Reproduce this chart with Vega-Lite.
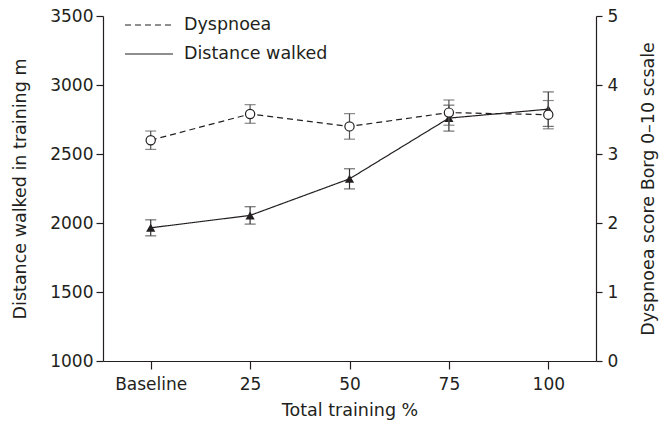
{
  "$schema": "https://vega.github.io/schema/vega-lite/v6.json",
  "width": 493,
  "height": 345,
  "autosize": "none",
  "padding": {"left": 103, "top": 16, "right": 68, "bottom": 61},
  "background": "white",
  "config": {
    "view": {"stroke": null},
    "font": "DejaVu Sans",
    "axis": {
      "grid": false,
      "domainColor": "#231f20",
      "tickColor": "#231f20",
      "domainWidth": 1.2,
      "tickWidth": 1.2,
      "labelColor": "#231f20",
      "titleColor": "#231f20",
      "labelFont": "DejaVu Sans",
      "titleFont": "DejaVu Sans",
      "labelFontSize": 17,
      "titleFontSize": 17.5,
      "titleFontWeight": "normal"
    },
    "legend": {
      "labelFont": "DejaVu Sans",
      "labelFontSize": 17.5,
      "labelColor": "#231f20"
    }
  },
  "datasets": {
    "distance": [
      {"t": "Baseline", "series": "Distance walked", "mean": 1965, "err": 58},
      {"t": "25", "series": "Distance walked", "mean": 2055, "err": 63},
      {"t": "50", "series": "Distance walked", "mean": 2320, "err": 73},
      {"t": "75", "series": "Distance walked", "mean": 2760, "err": 94},
      {"t": "100", "series": "Distance walked", "mean": 2825, "err": 125}
    ],
    "dyspnoea": [
      {"t": "Baseline", "series": "Dyspnoea", "mean": 3.2, "err": 0.133},
      {"t": "25", "series": "Dyspnoea", "mean": 3.58, "err": 0.135},
      {"t": "50", "series": "Dyspnoea", "mean": 3.4, "err": 0.185},
      {"t": "75", "series": "Dyspnoea", "mean": 3.6, "err": 0.183},
      {"t": "100", "series": "Dyspnoea", "mean": 3.57, "err": 0.205}
    ]
  },
  "encoding": {
    "x": {
      "field": "t",
      "type": "ordinal",
      "sort": ["Baseline", "25", "50", "75", "100"],
      "scale": {"type": "point", "padding": 0.48},
      "axis": {
        "title": "Total training %",
        "labelAngle": 0,
        "tickSize": 8,
        "labelPadding": 7,
        "titlePadding": 9
      }
    }
  },
  "layer": [
    {
      "data": {"name": "distance"},
      "encoding": {
        "y": {
          "field": "mean",
          "type": "quantitative",
          "scale": {"domain": [1000, 3500], "nice": false, "zero": false},
          "axis": {
            "orient": "left",
            "title": "Distance walked in training m",
            "values": [1000, 1500, 2000, 2500, 3000, 3500],
            "format": "d",
            "tickSize": 7,
            "labelPadding": 3,
            "titlePadding": 20
          }
        }
      },
      "layer": [
        {
          "mark": {"type": "line", "color": "#231f20", "strokeWidth": 1.2},
          "encoding": {
            "strokeDash": {
              "field": "series",
              "type": "nominal",
              "scale": {"domain": ["Dyspnoea", "Distance walked"], "range": [[6, 4], [1, 0]]},
              "legend": {
                "title": null,
                "orient": "none",
                "legendX": 30,
                "legendY": -7,
                "symbolType": "M-1.6,0H1.6",
                "symbolSize": 900,
                "symbolStrokeColor": "#231f20",
                "symbolStrokeWidth": 1.2,
                "labelOffset": 19,
                "rowPadding": 4
              }
            }
          }
        },
        {
          "mark": {"type": "errorbar", "ticks": {"size": 11}, "color": "#333333", "thickness": 1.2},
          "encoding": {
            "y": {"field": "mean", "type": "quantitative"},
            "yError": {"field": "err"}
          }
        },
        {
          "mark": {"type": "point", "shape": "triangle-up", "filled": true, "color": "#231f20", "size": 85, "opacity": 1}
        }
      ]
    },
    {
      "data": {"name": "dyspnoea"},
      "encoding": {
        "y": {
          "field": "mean",
          "type": "quantitative",
          "scale": {"domain": [0, 5], "nice": false},
          "axis": {
            "orient": "right",
            "title": "Dyspnoea score Borg 0–10 scsale",
            "values": [0, 1, 2, 3, 4, 5],
            "tickSize": 6,
            "labelPadding": 5,
            "titleAngle": -90,
            "titlePadding": 40
          }
        }
      },
      "layer": [
        {
          "mark": {"type": "line", "color": "#231f20", "strokeWidth": 1.2},
          "encoding": {
            "strokeDash": {"field": "series", "type": "nominal"}
          }
        },
        {
          "mark": {"type": "errorbar", "ticks": {"size": 11}, "color": "#555555", "thickness": 1.2},
          "encoding": {
            "y": {"field": "mean", "type": "quantitative"},
            "yError": {"field": "err"}
          }
        },
        {
          "mark": {"type": "point", "shape": "circle", "filled": true, "fill": "white", "stroke": "#231f20", "strokeWidth": 1.2, "size": 85, "opacity": 1}
        }
      ]
    }
  ],
  "resolve": {"scale": {"y": "independent"}}
}
